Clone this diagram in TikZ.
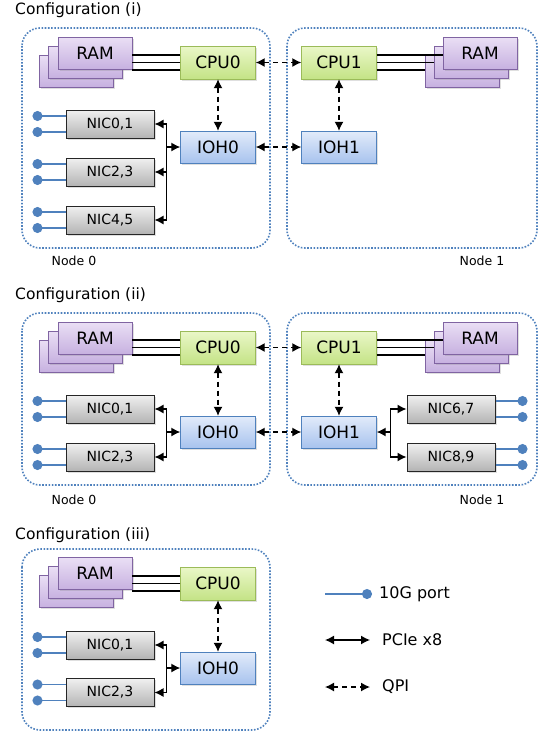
\documentclass[tikz,border=0pt]{standalone}
\usepackage{fontspec}
\setmainfont{DejaVu Sans}
\usepackage{xcolor}
\usepackage{tikz}
\usetikzlibrary{arrows.meta,positioning,calc,shadows}

\definecolor{ramtop}{HTML}{EADFF5}
\definecolor{rambot}{HTML}{C7B1E0}
\definecolor{ramline}{HTML}{8064A2}
\definecolor{cputop}{HTML}{EAF7C8}
\definecolor{cpubot}{HTML}{C4E386}
\definecolor{cpuline}{HTML}{9BBB59}
\definecolor{iohtop}{HTML}{E2EBFA}
\definecolor{iohbot}{HTML}{A8C3EE}
\definecolor{iohline}{HTML}{4F81BD}
\definecolor{nictop}{HTML}{F0F0F0}
\definecolor{nicbot}{HTML}{B4B4B4}
\definecolor{portblue}{HTML}{4F81BD}

\begin{document}
\begin{tikzpicture}[
    x=1pt, y=-1pt,
    >={Latex[length=9pt,width=9pt]},
    box/.style={rectangle, inner sep=0pt,
                drop shadow={shadow xshift=1.5pt, shadow yshift=-1.5pt, opacity=0.25}},
    ram/.style={box, draw=ramline, top color=ramtop, bottom color=rambot,
                minimum width=74pt, minimum height=32pt, font=\fontsize{17}{19}\selectfont},
    cpu/.style={box, draw=cpuline, top color=cputop, bottom color=cpubot,
                minimum width=75pt, minimum height=33pt, font=\fontsize{17}{19}\selectfont},
    ioh/.style={box, draw=iohline, top color=iohtop, bottom color=iohbot,
                minimum width=75pt, minimum height=32pt, font=\fontsize{17}{19}\selectfont},
    nic/.style={box, draw=black!85, line width=1pt, top color=nictop, bottom color=nicbot,
                minimum width=88pt, minimum height=28pt, font=\fontsize{14}{16}\selectfont},
    numa/.style={draw=portblue, line width=1.6pt, dash pattern=on 1.6pt off 1.6pt,
                 rounded corners=18pt},
    title/.style={anchor=west, inner sep=0pt, font=\fontsize{15.5}{18}\selectfont},
    caption/.style={inner sep=0pt, font=\fontsize{12.5}{15}\selectfont},
    legend/.style={anchor=west, inner sep=0pt, font=\fontsize{16}{18}\selectfont},
    mem/.style={line width=1.2pt},
    pcie/.style={line width=1.3pt},
    qpi/.style={<->, line width=1.3pt, dash pattern=on 5pt off 4pt},
    port/.style={draw=portblue, line width=1.6pt, -{Circle[length=10pt]}}
]
\useasboundingbox (0,0) rectangle (545,737);

% Configuration (i)
\node[title] (a-title) at (15,10) {Configuration (i)};
\draw[numa] (22,28) rectangle (270,248);
\draw[numa] (287,28) rectangle (537,248);
\node[caption] (a-node0) at (74,261) {Node 0};
\node[caption] (a-node1) at (482,261) {Node 1};

\node[ram] (a-ram0c) at (76,71) {};
\node[ram] (a-ram0b) at (85.5,62) {};
\node[ram] (a-ram0a) at (95,53) {RAM};
\node[cpu] (a-cpu0) at (218,62.5) {CPU0};
\node[ioh] (a-ioh0) at (218,147) {IOH0};
\node[nic] (a-nic01) at (110,124) {NIC0,1};
\node[nic] (a-nic23) at (110,172) {NIC2,3};
\node[nic] (a-nic45) at (110,220) {NIC4,5};

\node[cpu] (a-cpu1) at (339,62.5) {CPU1};
\node[ioh] (a-ioh1) at (339,147) {IOH1};
\node[ram] (a-ram1c) at (462,71) {};
\node[ram] (a-ram1b) at (471,62) {};
\node[ram] (a-ram1a) at (480,53) {RAM};

\foreach \s in {-7.5,0,7.5}
  \draw[mem] ($(a-cpu0.west)+(0,\s)$) -- ($(a-cpu0.west -| a-ram0a.east)+(0,\s)$);
\draw[mem] ($(a-cpu1.east)+(0,-7.5)$) -- ($(a-cpu1.east -| a-ram1a.west)+(0,-7.5)$);
\draw[mem] (a-cpu1.east) -- (a-cpu1.east -| a-ram1b.west);
\draw[mem] ($(a-cpu1.east)+(0,7.5)$) -- ($(a-cpu1.east -| a-ram1c.west)+(0,7.5)$);

\draw[qpi] (a-cpu0) -- (a-ioh0);
\draw[qpi] (a-cpu1) -- (a-ioh1);
\draw[qpi] (a-cpu0) -- (a-cpu1);
\draw[qpi] (a-ioh0) -- (a-ioh1);

\coordinate (a-bus0) at ($(a-nic01.east)+(12,0)$);
\draw[pcie,<->] (a-nic01.east) -- (a-bus0) |- (a-nic45.east);
\draw[pcie,->] (a-bus0 |- a-nic23.east) -- (a-nic23.east);
\draw[pcie,->] (a-bus0 |- a-ioh0.west) -- (a-ioh0.west);

\foreach \n in {a-nic01,a-nic23,a-nic45} {
  \draw[port] ($(\n.west)+(0,-8)$) -- ++(-33,0);
  \draw[port] ($(\n.west)+(0,8)$) -- ++(-33,0);
}

% Configuration (ii)
\node[title] (b-title) at (15,295) {Configuration (ii)};
\draw[numa] (22,313) rectangle (270,485);
\draw[numa] (287,313) rectangle (537,485);
\node[caption] (b-node0) at (74,500) {Node 0};
\node[caption] (b-node1) at (482,500) {Node 1};

\node[ram] (b-ram0c) at (76,356) {};
\node[ram] (b-ram0b) at (85.5,347) {};
\node[ram] (b-ram0a) at (95,338) {RAM};
\node[cpu] (b-cpu0) at (218,347.5) {CPU0};
\node[ioh] (b-ioh0) at (218,432) {IOH0};
\node[nic] (b-nic01) at (110,409) {NIC0,1};
\node[nic] (b-nic23) at (110,457) {NIC2,3};

\node[cpu] (b-cpu1) at (339,347.5) {CPU1};
\node[ioh] (b-ioh1) at (339,432) {IOH1};
\node[ram] (b-ram1c) at (462,356) {};
\node[ram] (b-ram1b) at (471,347) {};
\node[ram] (b-ram1a) at (480,338) {RAM};
\node[nic] (b-nic67) at (451,409) {NIC6,7};
\node[nic] (b-nic89) at (451,457) {NIC8,9};

\foreach \s in {-7.5,0,7.5}
  \draw[mem] ($(b-cpu0.west)+(0,\s)$) -- ($(b-cpu0.west -| b-ram0a.east)+(0,\s)$);
\draw[mem] ($(b-cpu1.east)+(0,-7.5)$) -- ($(b-cpu1.east -| b-ram1a.west)+(0,-7.5)$);
\draw[mem] (b-cpu1.east) -- (b-cpu1.east -| b-ram1b.west);
\draw[mem] ($(b-cpu1.east)+(0,7.5)$) -- ($(b-cpu1.east -| b-ram1c.west)+(0,7.5)$);

\draw[qpi] (b-cpu0) -- (b-ioh0);
\draw[qpi] (b-cpu1) -- (b-ioh1);
\draw[qpi] (b-cpu0) -- (b-cpu1);
\draw[qpi] (b-ioh0) -- (b-ioh1);

\coordinate (b-bus0) at ($(b-nic01.east)+(12,0)$);
\draw[pcie,<->] (b-nic01.east) -- (b-bus0) |- (b-nic23.east);
\draw[pcie,->] (b-bus0 |- b-ioh0.west) -- (b-ioh0.west);
\coordinate (b-bus1) at ($(b-nic67.west)+(-16,0)$);
\draw[pcie,<->] (b-nic67.west) -- (b-bus1) |- (b-nic89.west);
\draw[pcie,->] (b-bus1 |- b-ioh1.east) -- (b-ioh1.east);

\foreach \n in {b-nic01,b-nic23} {
  \draw[port] ($(\n.west)+(0,-8)$) -- ++(-33,0);
  \draw[port] ($(\n.west)+(0,8)$) -- ++(-33,0);
}
\foreach \n in {b-nic67,b-nic89} {
  \draw[port] ($(\n.east)+(0,-8)$) -- ++(32,0);
  \draw[port] ($(\n.east)+(0,8)$) -- ++(32,0);
}

% Configuration (iii)
\node[title] (c-title) at (15,535) {Configuration (iii)};
\draw[numa] (22,549) rectangle (270,730);

\node[ram] (c-ram0c) at (76,591.5) {};
\node[ram] (c-ram0b) at (85.5,582.5) {};
\node[ram] (c-ram0a) at (95,573.5) {RAM};
\node[cpu] (c-cpu0) at (218,583.5) {CPU0};
\node[ioh] (c-ioh0) at (218,668) {IOH0};
\node[nic] (c-nic01) at (110,645) {NIC0,1};
\node[nic] (c-nic23) at (110,692.5) {NIC2,3};

\foreach \s in {-7.5,0,7.5}
  \draw[mem] ($(c-cpu0.west)+(0,\s)$) -- ($(c-cpu0.west -| c-ram0a.east)+(0,\s)$);
\draw[qpi] (c-cpu0) -- (c-ioh0);

\coordinate (c-bus0) at ($(c-nic01.east)+(12,0)$);
\draw[pcie,<->] (c-nic01.east) -- (c-bus0) |- (c-nic23.east);
\draw[pcie,->] (c-bus0 |- c-ioh0.west) -- (c-ioh0.west);

\foreach \n in {c-nic01,c-nic23} {
  \draw[port] ($(\n.west)+(0,-8)$) -- ++(-33,0);
  \draw[port] ($(\n.west)+(0,8)$) -- ++(-33,0);
}

% legend
\coordinate (lg-a) at (325,594);
\coordinate (lg-b) at (325,640);
\coordinate (lg-c) at (325,687);
\node[legend] (lg-port) at (379,594) {10G port};
\node[legend] (lg-pcie) at (382,640) {PCIe x8};
\node[legend] (lg-qpi) at (382,687) {QPI};
\draw[port] (lg-a) -- ([xshift=-7pt]lg-port.west);
\draw[pcie,<->] (lg-b) -- ([xshift=-12pt]lg-pcie.west);
\draw[qpi] (lg-c) -- ([xshift=-12pt]lg-qpi.west);
\end{tikzpicture}
\end{document}
